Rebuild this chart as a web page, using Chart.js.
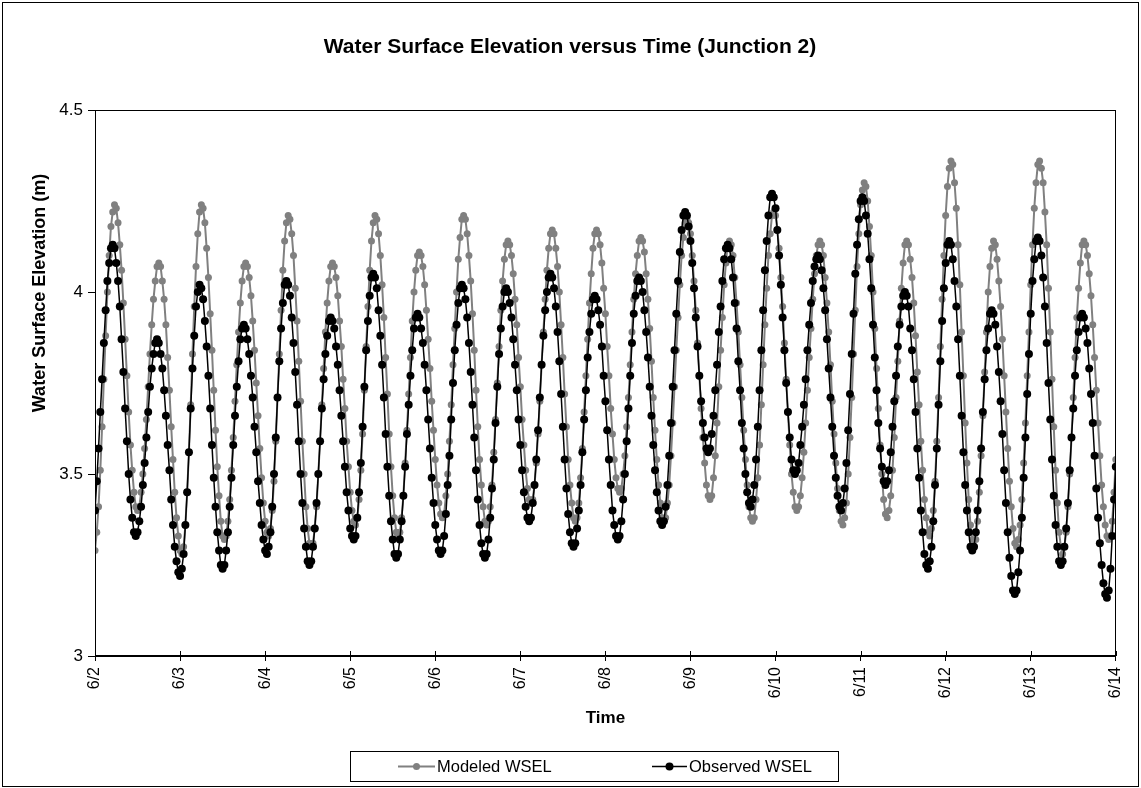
<!DOCTYPE html>
<html>
<head>
<meta charset="utf-8">
<script src="https://cdn.jsdelivr.net/npm/chart.js@4/dist/chart.umd.min.js"></script>
<style>
html,body{margin:0;padding:0;background:#fff;}
canvas{display:block;}
</style>
</head>
<body>
<canvas id="c" width="1141" height="788"></canvas>
<script>
// ---- data (half-hourly readings starting 6/2 00:00) ----
const titleText = 'Water Surface Elevation versus Time (Junction 2)';
const xTitle = 'Time';
const yTitle = 'Water Surface Elevation (m)';
const seriesNames = ['Modeled WSEL', 'Observed WSEL'];
const dayLabels = ['6/2','6/3','6/4','6/5','6/6','6/7','6/8','6/9','6/10','6/11','6/12','6/13','6/14'];
const yTickLabels = ['3','3.5','4','4.5'];
const stepHours = 0.5;

const modeled = [
3.29,3.34,3.41,3.51,3.63,3.76,3.88,4.00,4.10,4.18,4.22,4.24,
4.23,4.19,4.13,4.06,3.97,3.87,3.77,3.67,3.58,3.51,3.45,3.41,3.40,
3.41,3.45,3.50,3.57,3.65,3.74,3.83,3.91,3.98,4.03,4.07,4.08,
4.07,4.03,3.98,3.91,3.82,3.73,3.63,3.54,3.45,3.38,3.33,3.29,3.28,
3.30,3.36,3.45,3.56,3.69,3.83,3.96,4.07,4.16,4.22,4.24,
4.23,4.19,4.12,4.04,3.94,3.84,3.73,3.62,3.52,3.44,3.37,3.33,3.32,
3.33,3.37,3.43,3.51,3.60,3.70,3.80,3.89,3.97,4.03,4.07,4.08,
4.07,4.04,3.99,3.92,3.84,3.75,3.66,3.57,3.49,3.42,3.37,3.34,3.33,
3.35,3.40,3.48,3.59,3.71,3.83,3.95,4.06,4.14,4.19,4.21,
4.20,4.16,4.10,4.01,3.92,3.81,3.70,3.59,3.50,3.41,3.35,3.31,3.30,
3.31,3.35,3.41,3.50,3.59,3.69,3.79,3.89,3.97,4.03,4.07,4.08,
4.07,4.04,3.99,3.92,3.85,3.76,3.68,3.59,3.52,3.45,3.40,3.37,3.36,
3.38,3.43,3.51,3.61,3.73,3.85,3.96,4.06,4.14,4.19,4.21,
4.20,4.16,4.10,4.02,3.93,3.82,3.72,3.61,3.52,3.44,3.38,3.34,3.33,
3.34,3.38,3.44,3.53,3.62,3.72,3.82,3.92,4.00,4.06,4.10,4.11,
4.10,4.07,4.02,3.95,3.87,3.79,3.70,3.62,3.54,3.47,3.42,3.39,3.38,
3.39,3.44,3.50,3.59,3.69,3.80,3.90,4.00,4.09,4.15,4.20,4.21,
4.20,4.16,4.10,4.03,3.94,3.84,3.73,3.63,3.54,3.47,3.41,3.37,3.36,
3.37,3.41,3.47,3.56,3.65,3.75,3.85,3.95,4.03,4.09,4.13,4.14,
4.13,4.10,4.05,3.98,3.91,3.82,3.74,3.65,3.58,3.51,3.46,3.43,3.42,
3.43,3.47,3.53,3.61,3.70,3.80,3.89,3.98,4.06,4.12,4.16,4.17,
4.16,4.12,4.07,4.00,3.91,3.82,3.72,3.63,3.54,3.47,3.42,3.38,3.37,
3.38,3.42,3.49,3.57,3.67,3.77,3.87,3.97,4.05,4.12,4.16,4.17,
4.16,4.13,4.08,4.01,3.94,3.85,3.77,3.68,3.61,3.54,3.49,3.46,3.45,
3.46,3.50,3.55,3.63,3.71,3.80,3.89,3.98,4.05,4.10,4.14,4.15,
4.14,4.11,4.05,3.98,3.90,3.81,3.71,3.62,3.54,3.47,3.42,3.38,3.37,
3.38,3.42,3.47,3.55,3.64,3.74,3.84,3.93,4.02,4.10,4.15,4.19,4.20,
4.19,4.16,4.10,4.03,3.95,3.86,3.77,3.68,3.60,3.53,3.47,3.44,3.43,
3.44,3.49,3.55,3.64,3.74,3.84,3.93,4.02,4.08,4.13,4.14,
4.13,4.10,4.04,3.97,3.89,3.80,3.71,3.62,3.54,3.47,3.41,3.38,3.37,
3.38,3.43,3.49,3.58,3.69,3.80,3.91,4.01,4.10,4.16,4.21,4.22,
4.21,4.17,4.12,4.04,3.96,3.86,3.76,3.67,3.58,3.50,3.45,3.41,3.40,
3.41,3.44,3.49,3.56,3.64,3.73,3.82,3.90,3.98,4.05,4.10,4.13,4.14,
4.13,4.10,4.04,3.97,3.89,3.80,3.70,3.61,3.53,3.46,3.40,3.37,3.36,
3.38,3.42,3.50,3.60,3.71,3.83,3.95,4.07,4.16,4.24,4.28,4.30,
4.29,4.25,4.18,4.10,4.00,3.90,3.79,3.68,3.58,3.50,3.43,3.39,3.38,
3.40,3.44,3.51,3.60,3.71,3.81,3.92,4.01,4.08,4.13,4.14,
4.13,4.09,4.04,3.97,3.88,3.78,3.69,3.59,3.51,3.43,3.38,3.34,3.33,
3.35,3.40,3.48,3.59,3.71,3.85,3.98,4.10,4.21,4.29,4.34,4.36,
4.35,4.30,4.23,4.13,4.02,3.89,3.77,3.64,3.53,3.43,3.36,3.32,3.30,
3.32,3.37,3.45,3.55,3.66,3.78,3.89,4.00,4.07,4.12,4.14,
4.13,4.09,4.03,3.96,3.87,3.77,3.67,3.57,3.48,3.41,3.35,3.31,3.30,
3.32,3.36,3.43,3.53,3.64,3.77,3.89,4.02,4.13,4.23,4.30,4.35,4.36,
4.34,4.30,4.22,4.13,4.01,3.89,3.76,3.63,3.51,3.42,3.34,3.30,3.28,
3.30,3.34,3.41,3.50,3.60,3.71,3.82,3.93,4.01,4.08,4.13,4.14,
4.13,4.10,4.05,3.99,3.91,3.82,3.73,3.64,3.55,3.47,3.41,3.36,3.33,3.32,
3.33,3.37,3.45,3.54
];

const observed = [
3.40,3.48,3.57,3.67,3.76,3.86,3.95,4.03,4.08,4.12,4.13,
4.12,4.08,4.03,3.96,3.87,3.78,3.68,3.59,3.50,3.43,3.38,3.34,3.33,
3.34,3.37,3.41,3.47,3.53,3.60,3.67,3.74,3.79,3.83,3.86,3.87,
3.86,3.83,3.79,3.73,3.66,3.58,3.51,3.43,3.36,3.30,3.26,3.23,3.22,
3.24,3.28,3.36,3.45,3.56,3.68,3.79,3.88,3.96,4.00,4.02,
4.01,3.98,3.92,3.85,3.77,3.68,3.58,3.49,3.41,3.34,3.29,3.25,3.24,
3.25,3.29,3.34,3.41,3.49,3.58,3.66,3.74,3.81,3.87,3.90,3.91,
3.90,3.87,3.83,3.77,3.71,3.63,3.56,3.48,3.42,3.36,3.32,3.29,3.28,
3.30,3.34,3.41,3.50,3.60,3.71,3.81,3.90,3.97,4.02,4.03,
4.02,3.99,3.93,3.86,3.78,3.69,3.59,3.50,3.42,3.35,3.30,3.26,3.25,
3.26,3.30,3.35,3.42,3.50,3.59,3.68,3.76,3.83,3.88,3.92,3.93,
3.92,3.90,3.85,3.80,3.73,3.66,3.59,3.52,3.45,3.40,3.35,3.33,3.32,
3.33,3.38,3.45,3.53,3.63,3.74,3.84,3.92,3.99,4.04,4.05,
4.04,4.01,3.95,3.88,3.80,3.71,3.61,3.52,3.44,3.37,3.32,3.28,3.27,
3.28,3.32,3.37,3.44,3.52,3.61,3.69,3.77,3.84,3.90,3.93,3.94,
3.93,3.90,3.86,3.80,3.73,3.65,3.57,3.49,3.42,3.36,3.32,3.29,3.28,
3.29,3.33,3.39,3.47,3.55,3.65,3.75,3.84,3.91,3.97,4.01,4.02,
4.01,3.98,3.93,3.86,3.78,3.69,3.60,3.51,3.43,3.36,3.31,3.28,3.27,
3.28,3.32,3.38,3.46,3.54,3.64,3.74,3.83,3.90,3.96,4.00,4.01,
4.00,3.97,3.93,3.87,3.80,3.73,3.65,3.58,3.51,3.45,3.41,3.38,3.37,
3.38,3.42,3.47,3.54,3.62,3.71,3.80,3.88,3.95,4.00,4.04,4.05,
4.04,4.01,3.96,3.89,3.81,3.72,3.63,3.54,3.46,3.39,3.34,3.31,3.30,
3.31,3.35,3.40,3.47,3.56,3.65,3.73,3.82,3.89,3.94,3.98,3.99,
3.98,3.95,3.91,3.85,3.77,3.70,3.62,3.54,3.47,3.40,3.36,3.33,3.32,
3.33,3.37,3.43,3.50,3.59,3.68,3.77,3.86,3.94,3.99,4.03,4.04,
4.03,4.00,3.95,3.89,3.82,3.74,3.66,3.58,3.51,3.45,3.40,3.37,3.36,
3.37,3.41,3.47,3.55,3.64,3.74,3.84,3.94,4.03,4.11,4.17,4.21,4.22,
4.21,4.18,4.14,4.08,4.01,3.93,3.85,3.77,3.70,3.64,3.60,3.57,3.56,
3.57,3.61,3.66,3.73,3.80,3.89,3.96,4.03,4.09,4.12,4.13,
4.12,4.09,4.04,3.97,3.90,3.81,3.73,3.64,3.57,3.50,3.45,3.42,3.41,
3.43,3.47,3.54,3.63,3.73,3.84,3.95,4.06,4.14,4.21,4.26,4.27,
4.26,4.23,4.17,4.10,4.02,3.93,3.84,3.75,3.67,3.60,3.54,3.51,3.50,
3.51,3.53,3.58,3.63,3.69,3.76,3.84,3.91,3.97,4.03,4.07,4.09,4.10,
4.09,4.06,4.01,3.95,3.87,3.79,3.71,3.63,3.55,3.49,3.44,3.41,3.40,
3.42,3.46,3.53,3.62,3.72,3.83,3.94,4.05,4.13,4.20,4.25,4.26,
4.25,4.21,4.16,4.09,4.01,3.91,3.82,3.73,3.64,3.57,3.52,3.48,3.47,
3.48,3.51,3.56,3.63,3.70,3.77,3.85,3.91,3.96,3.99,4.00,
3.99,3.96,3.90,3.84,3.76,3.67,3.57,3.49,3.40,3.34,3.28,3.25,3.24,
3.26,3.30,3.37,3.47,3.57,3.69,3.81,3.92,4.01,4.08,4.13,4.14,
4.13,4.09,4.03,3.96,3.87,3.77,3.66,3.56,3.47,3.40,3.34,3.30,3.29,
3.30,3.34,3.40,3.48,3.57,3.67,3.76,3.84,3.90,3.94,3.95,
3.94,3.91,3.85,3.78,3.70,3.61,3.51,3.42,3.34,3.27,3.22,3.18,3.17,
3.18,3.23,3.29,3.38,3.49,3.60,3.72,3.83,3.94,4.03,4.09,4.14,4.15,
4.14,4.10,4.04,3.96,3.86,3.75,3.65,3.54,3.44,3.36,3.30,3.26,3.25,
3.26,3.30,3.35,3.42,3.51,3.60,3.68,3.77,3.84,3.89,3.93,3.94,
3.93,3.90,3.86,3.79,3.72,3.64,3.55,3.46,3.38,3.31,3.25,3.20,3.17,3.16,
3.18,3.24,3.33,3.43,3.52
];

const GRAY = '#808080';
const FONT = '"Liberation Sans", Arial, sans-serif';

function toPoints(arr){ return arr.map((v,i)=>({x: i*stepHours/24, y: v})); }

const decor = {
  id: 'decor',
  beforeDraw(chart){
    const ctx = chart.ctx;
    ctx.save(); ctx.fillStyle = '#fff'; ctx.fillRect(0,0,chart.width,chart.height); ctx.restore();
  },
  afterDraw(chart){
    const ctx = chart.ctx, a = chart.chartArea;
    ctx.save();
    ctx.strokeStyle = '#000'; ctx.lineWidth = 1;
    // plot box
    ctx.strokeRect(Math.round(a.left)+0.5, Math.round(a.top)+0.5, Math.round(a.right-a.left)-1, Math.round(a.bottom-a.top)-1);
    // outer frame
    ctx.strokeRect(2.5, 2.5, chart.width-5, chart.height-4);
    // inner x tick marks (cross the axis)
    const xs = chart.scales.x;
    xs.ticks.forEach(t => {
      const px = Math.round(xs.getPixelForValue(t.value)) + 0.5;
      ctx.beginPath(); ctx.moveTo(px, a.bottom); ctx.lineTo(px, a.bottom-5); ctx.stroke();
    });
    ctx.fillStyle = '#000';
    // chart title
    ctx.font = 'bold 21px ' + FONT;
    ctx.textAlign = 'center'; ctx.textBaseline = 'middle';
    ctx.fillText(titleText, 570, 47);
    // y axis title
    ctx.save();
    ctx.translate(40, 293);
    ctx.rotate(-Math.PI/2);
    ctx.font = 'bold 18px ' + FONT;
    ctx.fillText(yTitle, 0, 0);
    ctx.restore();
    // legend
    ctx.strokeRect(350.5, 751.5, 488, 30);
    const ly = 766.5;
    const items = [
      {x0: 398, x1: 435, color: GRAY, r: 3.5, lw: 2, label: seriesNames[0]},
      {x0: 652, x1: 687, color: '#000', r: 4, lw: 1.5, label: seriesNames[1]}
    ];
    ctx.font = '16.5px ' + FONT; ctx.textAlign = 'left';
    items.forEach(it => {
      ctx.strokeStyle = it.color; ctx.lineWidth = it.lw;
      ctx.beginPath(); ctx.moveTo(it.x0, ly); ctx.lineTo(it.x1, ly); ctx.stroke();
      ctx.fillStyle = it.color;
      ctx.beginPath(); ctx.arc((it.x0+it.x1)/2, ly, it.r, 0, Math.PI*2); ctx.fill();
      ctx.fillStyle = '#000';
      ctx.fillText(it.label, it.x1 + 2, ly + 1);
    });
    ctx.restore();
  }
};

new Chart(document.getElementById('c'), {
  type: 'line',
  data: {
    datasets: [
      {
        label: seriesNames[0], data: toPoints(modeled), order: 2,
        borderColor: GRAY, backgroundColor: GRAY, borderWidth: 2,
        pointRadius: 3.5, pointBackgroundColor: GRAY, pointBorderColor: GRAY, pointBorderWidth: 0,
        tension: 0
      },
      {
        label: seriesNames[1], data: toPoints(observed), order: 1,
        borderColor: '#000', backgroundColor: '#000', borderWidth: 1.5,
        pointRadius: 4, pointBackgroundColor: '#000', pointBorderColor: '#000', pointBorderWidth: 0,
        tension: 0
      }
    ]
  },
  options: {
    responsive: false, animation: false,
    layout: { padding: { top: 110, right: 24, bottom: 59, left: 30 } },
    plugins: { legend: { display: false }, title: { display: false }, tooltip: { enabled: false } },
    scales: {
      x: {
        type: 'linear', min: 0, max: dayLabels.length - 1,
        afterFit: s => { s.height = 73; },
        ticks: {
          stepSize: 1, autoSkip: false, minRotation: 90, maxRotation: 90,
          color: '#000', font: { family: FONT, size: 16 }, padding: 6,
          callback: v => dayLabels[v]
        },
        grid: { drawOnChartArea: false, drawTicks: true, tickLength: 5, color: '#000' },
        border: { color: '#000', width: 1 },
        title: { display: true, text: xTitle, color: '#000', font: { family: FONT, size: 17, weight: 'bold' }, padding: 0 }
      },
      y: {
        type: 'linear', min: 3, max: 4.5,
        afterFit: s => { s.width = 65; },
        ticks: {
          stepSize: 0.5, color: '#000', font: { family: FONT, size: 17 }, padding: 5,
          callback: v => { const i = Math.round((v - 3) / 0.5); return yTickLabels[i]; }
        },
        grid: { drawOnChartArea: false, drawTicks: true, tickLength: 7, color: '#000' },
        border: { color: '#000', width: 1 },
        title: { display: false }
      }
    }
  },
  plugins: [decor]
});
</script>
</body>
</html>
